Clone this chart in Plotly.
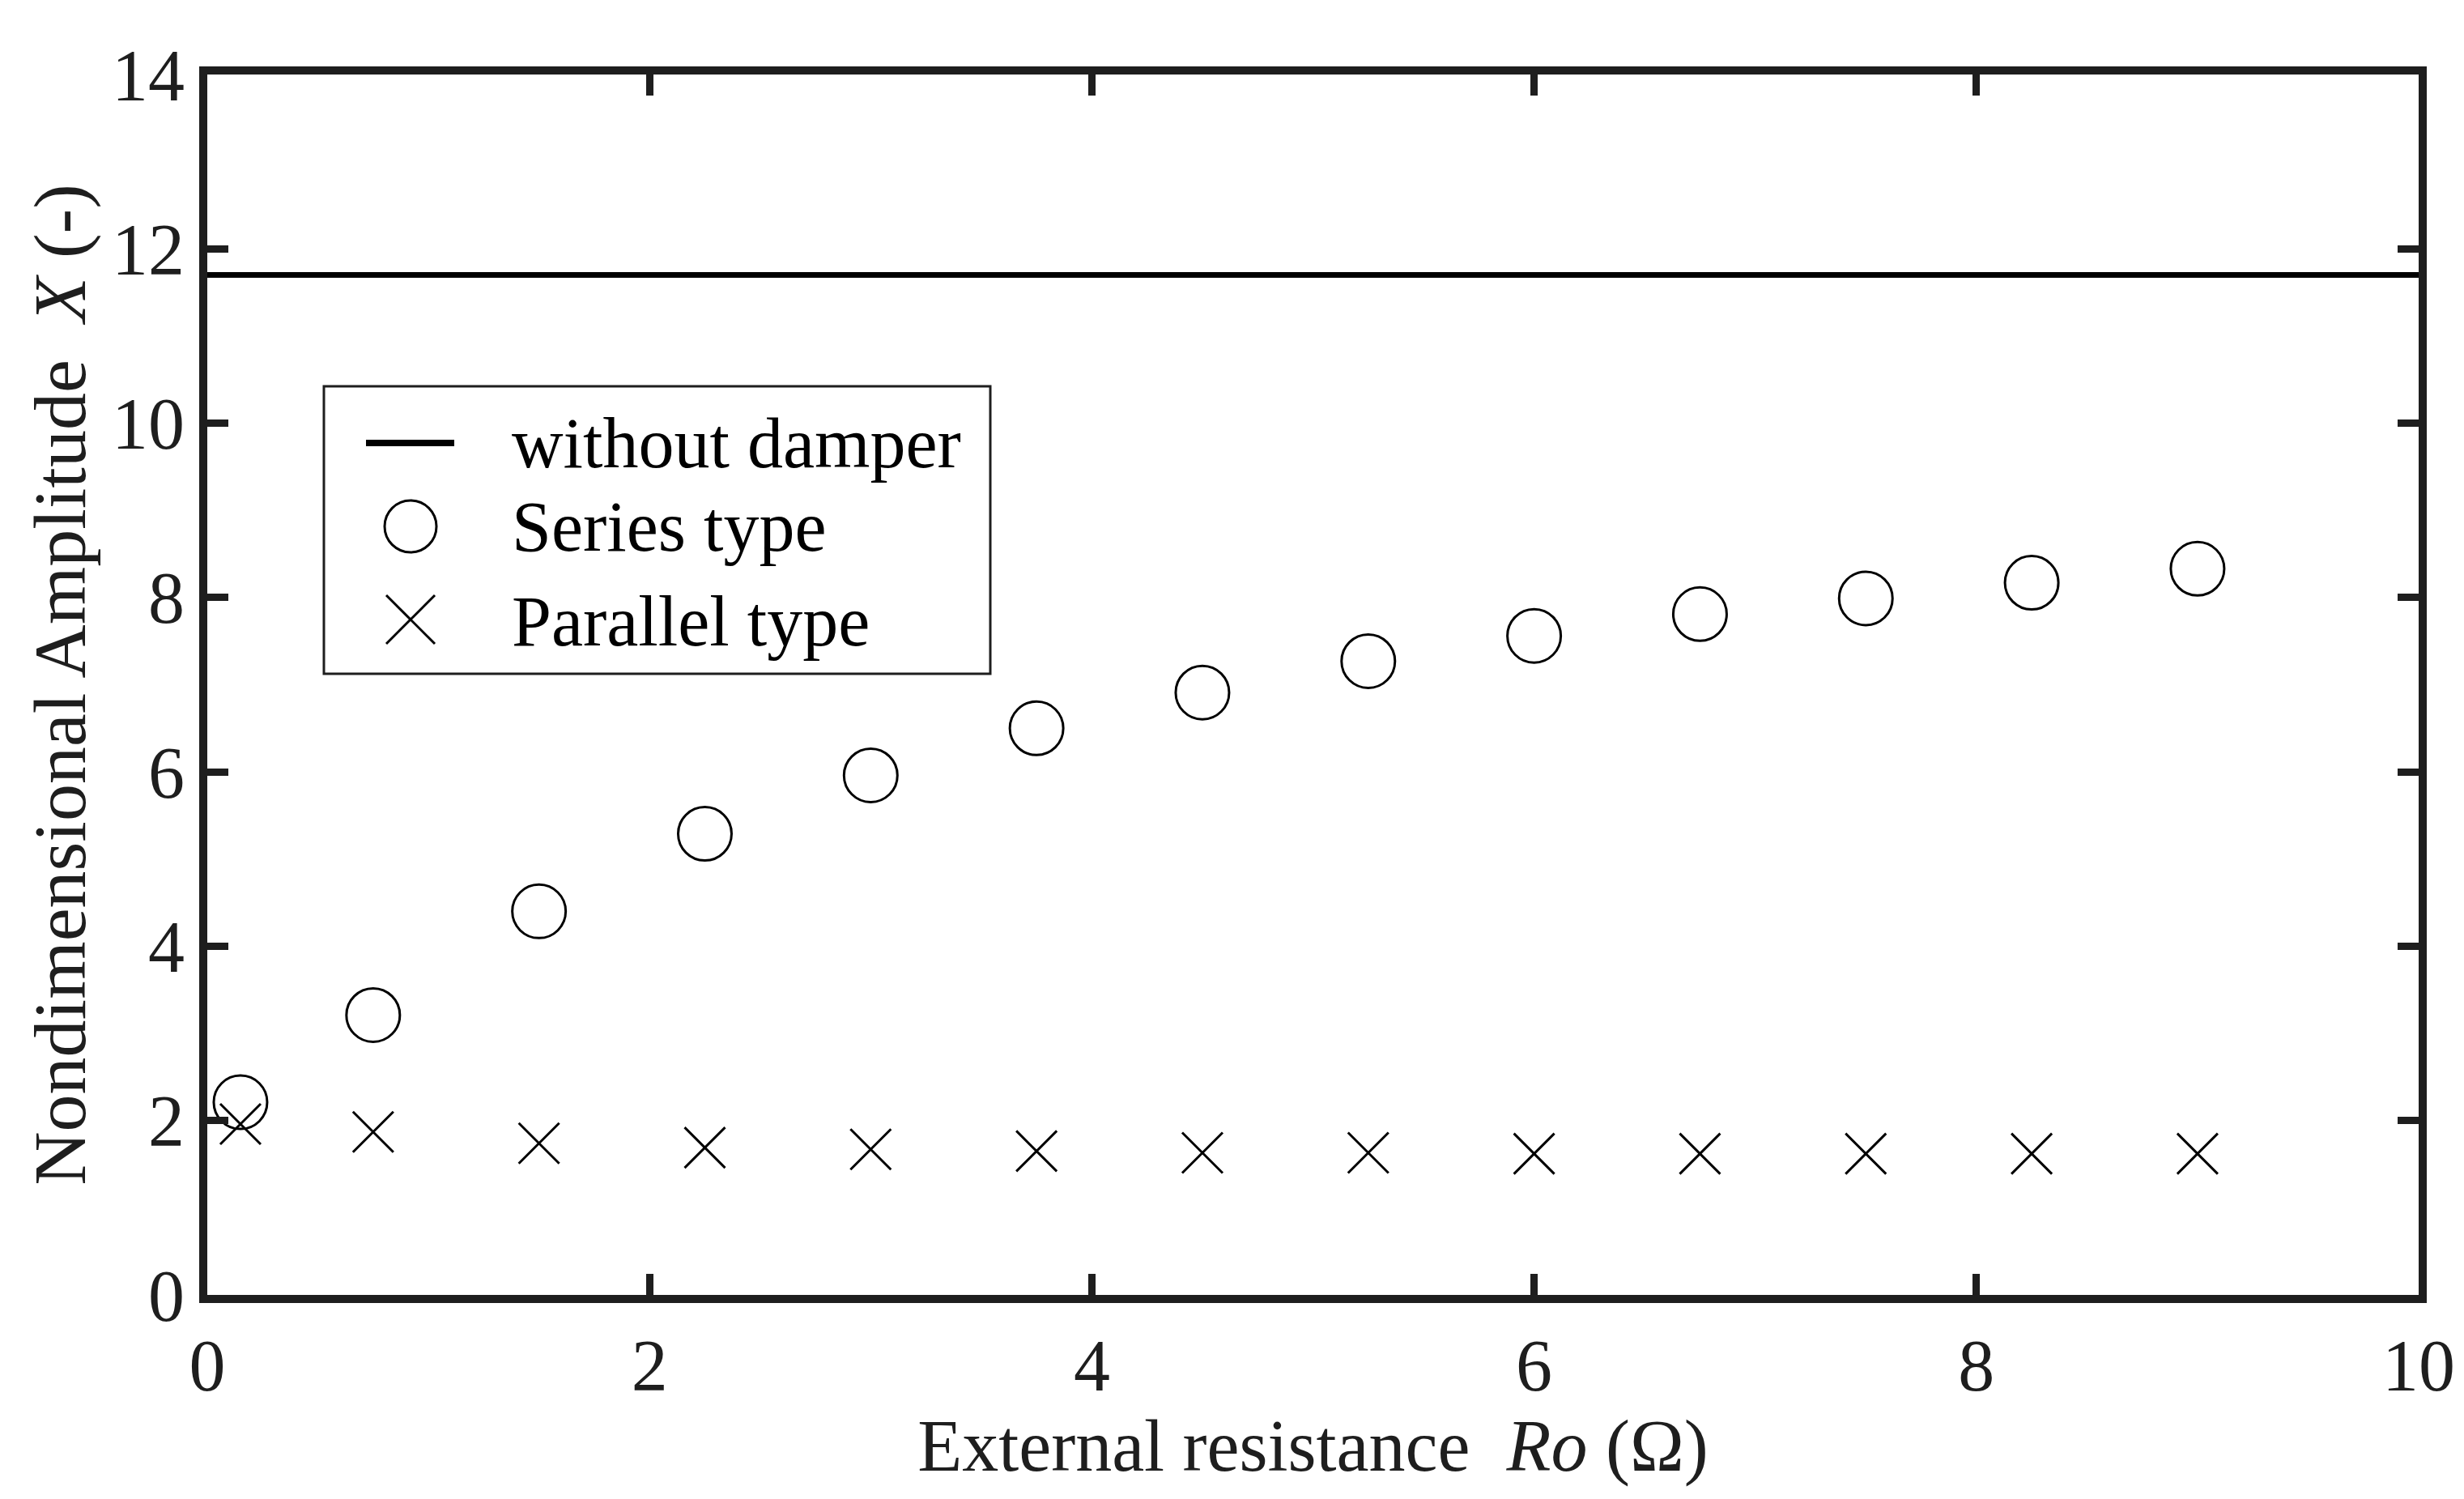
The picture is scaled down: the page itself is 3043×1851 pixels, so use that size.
import plotly.graph_objects as go

# Data
ro_series = [0.15, 0.75, 1.5, 2.25, 3.0, 3.75, 4.5, 5.25, 6.0, 6.75, 7.5, 8.25, 9.0]
x_series = [2.21, 3.21, 4.40, 5.29, 5.96, 6.50, 6.91, 7.27, 7.56, 7.81, 7.99, 8.17, 8.33]
ro_parallel = [0.15, 0.75, 1.5, 2.25, 3.0, 3.75, 4.5, 5.25, 6.0, 6.75, 7.5, 8.25, 9.0]
x_parallel = [1.96, 1.87, 1.74, 1.69, 1.67, 1.65, 1.63, 1.63, 1.62, 1.62, 1.62, 1.62, 1.62]
no_damper_x = [0, 10]
no_damper_y = [11.70, 11.70]

x_ticks = [0, 2, 4, 6, 8, 10]
y_ticks = [0, 2, 4, 6, 8, 10, 12, 14]
legend_names = ["without damper", "Series type", "Parallel type"]

FONT = "Liberation Serif"
INK = "#1e1e1e"

fig = go.Figure()
fig.add_trace(go.Scatter(
    x=no_damper_x, y=no_damper_y, mode="lines", name=legend_names[0],
    line=dict(color="black", width=7),
))
fig.add_trace(go.Scatter(
    x=ro_series, y=x_series, mode="markers", name=legend_names[1],
    marker=dict(symbol="circle-open", size=66, color="black", line=dict(width=3, color="black")),
))
fig.add_trace(go.Scatter(
    x=ro_parallel, y=x_parallel, mode="markers", name=legend_names[2],
    marker=dict(symbol="x-thin-open", size=50, color="black", line=dict(width=3, color="black")),
))

axis_common = dict(
    showgrid=False, zeroline=False, showline=True, linewidth=10, linecolor=INK,
    mirror="ticks", ticks="inside", ticklen=26, tickwidth=9, tickcolor=INK,
    tickfont=dict(family=FONT, size=90, color=INK),
)

# Hand-drawn legend (Plotly caps legend symbol sizes), anchored to the plot's top-left corner in pixels
def px_shape(**kw):
    base = dict(xref="paper", yref="paper", xanchor=0, yanchor=1,
                xsizemode="pixel", ysizemode="pixel")
    base.update(kw)
    return base

DX, DY = -8, 10
shapes = [
    px_shape(type="rect", x0=152 + DX, x1=975 + DX, y0=-395 + DY, y1=-750 + DY,
             line=dict(color=INK, width=3), fillcolor="white", layer="above"),
    px_shape(type="line", x0=204 + DX, x1=313 + DX, y0=-465 + DY, y1=-465 + DY,
             line=dict(color="black", width=8), layer="above"),
    px_shape(type="circle", x0=227 + DX, x1=291 + DX, y0=-536 + DY, y1=-600 + DY,
             line=dict(color="black", width=3), layer="above"),
    px_shape(type="line", x0=229 + DX, x1=289 + DX, y0=-653 + DY, y1=-713 + DY,
             line=dict(color="black", width=3), layer="above"),
    px_shape(type="line", x0=229 + DX, x1=289 + DX, y0=-713 + DY, y1=-653 + DY,
             line=dict(color="black", width=3), layer="above"),
]
row_offsets = [-465, -568, -685]
annotations = [
    dict(text=name, xref="paper", yref="paper", x=0, y=1, xanchor="left", yanchor="middle",
         xshift=382 + DX, yshift=off + DY, showarrow=False,
         font=dict(family=FONT, size=88, color="black"))
    for name, off in zip(legend_names, row_offsets)
]

fig.update_layout(
    width=3043, height=1851,
    paper_bgcolor="white", plot_bgcolor="white",
    margin=dict(l=248, r=64, t=84, b=260),
    font=dict(family=FONT, size=88, color=INK),
    xaxis=dict(range=[0, 10], tickvals=x_ticks,
               title=dict(text="External resistance  <i>Ro</i> (Ω)", font=dict(family=FONT, size=90, color=INK), standoff=8),
               **axis_common),
    yaxis=dict(range=[0, 14], tickvals=y_ticks,
               title=dict(text="Nondimensional Amplitude  <i>X</i> (-)", font=dict(family=FONT, size=92, color=INK), standoff=6),
               **axis_common),
    shapes=shapes,
    annotations=annotations,
    showlegend=False,
)

fig.write_html("out.html")
